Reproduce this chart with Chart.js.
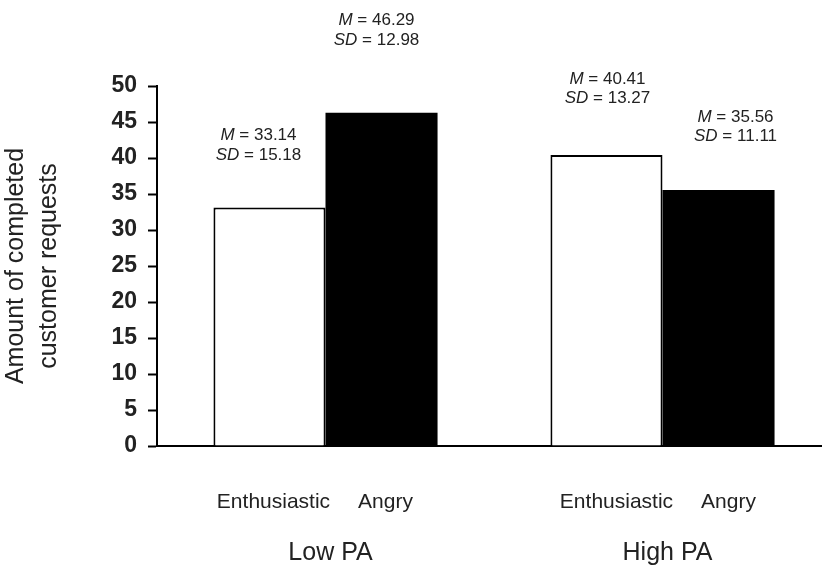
<!DOCTYPE html>
<html>
<head>
<meta charset="utf-8">
<script src="https://cdn.jsdelivr.net/npm/chart.js@4.4.1/dist/chart.umd.min.js"></script>
<style>
  html, body { margin: 0; padding: 0; background: #fff; }
  #wrap { width: 822px; height: 568px; position: relative; }
</style>
</head>
<body>
<div id="wrap"><canvas id="requestsChart"></canvas></div>
<script>
// Data
const groups = ['Low PA', 'High PA'];
const emotions = ['Enthusiastic', 'Angry'];
const enthusiasticMeans = [33.14, 40.41];
const angryMeans = [46.29, 35.56];
const enthusiasticSD = [15.18, 13.27];
const angrySD = [12.98, 11.11];
const yMin = 0, yMax = 50, yStep = 5;

const FONT = '"Liberation Sans", Arial, sans-serif';
const TEXT = '#222';

// note placement relative to bar centre / bar top, [dataset][group]
const noteOffsets = [
  [[-11, -72], [1, -76]],
  [[-5, -92], [17, -73]]
];
const labelShift = [4, 10];

const means = [enthusiasticMeans, angryMeans];
const sds = [enthusiasticSD, angrySD];

function drawNoteLine(ctx, cx, cy, label, value) {
  ctx.font = 'italic 17px ' + FONT;
  const w1 = ctx.measureText(label).width;
  ctx.font = '17px ' + FONT;
  const rest = ' = ' + value.toFixed(2);
  const w2 = ctx.measureText(rest).width;
  let x = cx - (w1 + w2) / 2;
  ctx.textAlign = 'left';
  ctx.textBaseline = 'middle';
  ctx.font = 'italic 17px ' + FONT;
  ctx.fillText(label, x, cy);
  ctx.font = '17px ' + FONT;
  ctx.fillText(rest, x + w1, cy);
}

const labelsPlugin = {
  id: 'labelsPlugin',
  afterDraw(chart) {
    const ctx = chart.ctx;
    const xs = chart.scales.x;
    ctx.save();
    ctx.fillStyle = TEXT;
    chart.data.datasets.forEach((ds, di) => {
      const meta = chart.getDatasetMeta(di);
      meta.data.forEach((bar, gi) => {
        const off = noteOffsets[di][gi];
        const cx = bar.x + off[0];
        const cy = bar.y + off[1];
        drawNoteLine(ctx, cx, cy, 'M', means[di][gi]);
        drawNoteLine(ctx, cx, cy + 19.5, 'SD', sds[di][gi]);
        // category labels under the axis
        ctx.font = '21px ' + FONT;
        ctx.textAlign = 'center';
        ctx.textBaseline = 'middle';
        ctx.fillText(emotions[di], bar.x + labelShift[gi], 502);
      });
    });
    ctx.font = '25px ' + FONT;
    ctx.textAlign = 'center';
    ctx.textBaseline = 'middle';
    groups.forEach((g, gi) => {
      ctx.fillText(g, xs.getPixelForValue(gi + 1) + 5, 553);
    });
    ctx.restore();
  }
};

new Chart(document.getElementById('requestsChart'), {
  type: 'bar',
  data: {
    datasets: [
      {
        label: emotions[0],
        data: enthusiasticMeans.map((v, i) => ({ x: i + 1, y: v })),
        backgroundColor: '#fff',
        borderColor: '#000',
        borderWidth: 2,
        borderSkipped: 'bottom'
      },
      {
        label: emotions[1],
        data: angryMeans.map((v, i) => ({ x: i + 1, y: v })),
        backgroundColor: '#000',
        borderWidth: 0
      }
    ]
  },
  options: {
    responsive: true,
    maintainAspectRatio: false,
    animation: false,
    categoryPercentage: 0.665,
    barPercentage: 1,
    layout: { padding: { top: 86, right: 0, left: 0, bottom: 0 } },
    plugins: {
      legend: { display: false },
      tooltip: { enabled: false }
    },
    scales: {
      x: {
        type: 'linear',
        offset: false,
        min: 0.5,
        max: 2.4733,
        afterBuildTicks: s => { s.ticks = [{ value: 1 }, { value: 2 }]; },
        afterFit: s => { s.height = 122; },
        ticks: { display: false },
        grid: { display: true, offset: false, drawOnChartArea: false, drawTicks: false },
        border: { display: true, color: '#000', width: 2 }
      },
      y: {
        min: yMin,
        max: yMax,
        afterFit: s => { s.width = 157; },
        ticks: {
          stepSize: yStep,
          color: TEXT,
          padding: 11,
          font: { family: FONT, size: 23, weight: 'bold' }
        },
        grid: {
          drawOnChartArea: false,
          drawTicks: true,
          tickLength: 9,
          tickWidth: 2,
          tickColor: '#000'
        },
        border: { display: true, color: '#000', width: 2 },
        title: {
          display: true,
          text: ['Amount of completed', 'customer requests'],
          color: TEXT,
          padding: 0,
          font: { family: FONT, size: 25, lineHeight: 1.3 }
        }
      }
    }
  },
  plugins: [labelsPlugin]
});
</script>
</body>
</html>
